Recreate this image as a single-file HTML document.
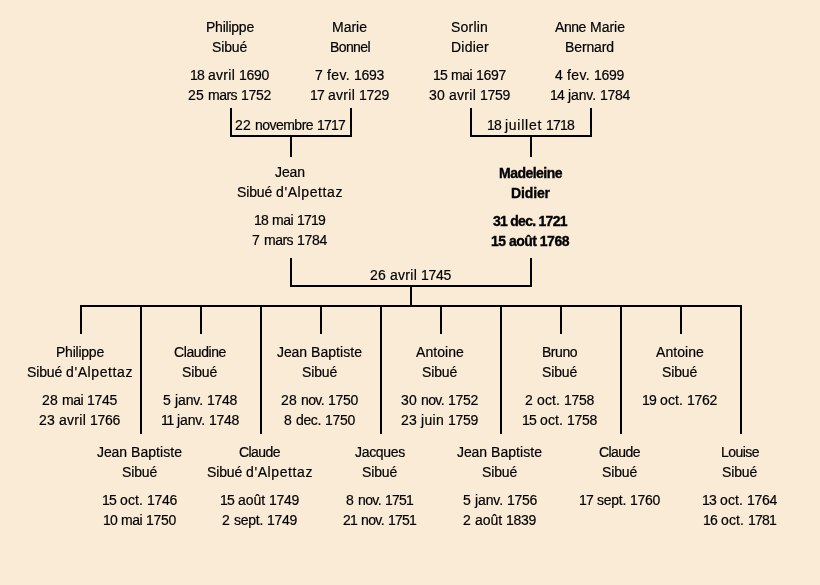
<!DOCTYPE html>
<html lang="fr"><head><meta charset="utf-8"><title>Arbre généalogique</title>
<style>
html,body{margin:0;padding:0}
body{width:820px;height:585px;background:#FAEBD7;position:relative;overflow:hidden;
font-family:"Liberation Sans","DejaVu Sans",sans-serif;font-size:14px;color:#000}
.t{position:absolute;will-change:transform;-webkit-text-stroke:0.2px #000;height:20px;line-height:20px;white-space:nowrap}
.b{font-weight:bold;-webkit-text-stroke:0.35px #000}
.l{position:absolute;background:#000}
</style></head><body>
<div class="t" style="left:205.8px;top:17px"><span style="letter-spacing:-0.23px">Philippe</span></div>
<div class="t" style="left:212.3px;top:37px"><span style="letter-spacing:-0.16px">Sibué</span></div>
<div class="t" style="left:190.3px;top:65px;word-spacing:0.11px"><span style="letter-spacing:-0.79px">18</span> <span style="letter-spacing:0.27px">avril</span> <span style="letter-spacing:-0.29px">1690</span></div>
<div class="t" style="left:188.3px;top:85px;word-spacing:0.11px"><span style="letter-spacing:0.21px">25</span> <span style="letter-spacing:-0.53px">mars</span> <span style="letter-spacing:-0.29px">1752</span></div>
<div class="t" style="left:332.4px;top:17px"><span style="letter-spacing:-0.0px">Marie</span></div>
<div class="t" style="left:329.9px;top:37px"><span style="letter-spacing:-0.6px">Bonnel</span></div>
<div class="t" style="left:315.4px;top:65px;word-spacing:0.11px"><span style="letter-spacing:0.2px">7</span> <span style="letter-spacing:0.37px">fev.</span> <span style="letter-spacing:-0.29px">1693</span></div>
<div class="t" style="left:310.4px;top:85px;word-spacing:0.11px"><span style="letter-spacing:-0.79px">17</span> <span style="letter-spacing:0.27px">avril</span> <span style="letter-spacing:-0.29px">1729</span></div>
<div class="t" style="left:451.4px;top:17px"><span style="letter-spacing:0.2px">Sorlin</span></div>
<div class="t" style="left:450.9px;top:37px"><span style="letter-spacing:0.24px">Didier</span></div>
<div class="t" style="left:433.4px;top:65px;word-spacing:0.11px"><span style="letter-spacing:-0.79px">15</span> <span style="letter-spacing:-0.52px">mai</span> <span style="letter-spacing:-0.29px">1697</span></div>
<div class="t" style="left:429.4px;top:85px;word-spacing:0.11px"><span style="letter-spacing:0.21px">30</span> <span style="letter-spacing:0.27px">avril</span> <span style="letter-spacing:-0.29px">1759</span></div>
<div class="t" style="left:554.9px;top:17px;word-spacing:0.11px"><span style="letter-spacing:-0.43px">Anne</span> <span style="letter-spacing:-0.0px">Marie</span></div>
<div class="t" style="left:565.4px;top:37px"><span style="letter-spacing:-0.12px">Bernard</span></div>
<div class="t" style="left:555.4px;top:65px;word-spacing:0.11px"><span style="letter-spacing:0.2px">4</span> <span style="letter-spacing:0.37px">fev.</span> <span style="letter-spacing:-0.29px">1699</span></div>
<div class="t" style="left:549.9px;top:85px;word-spacing:0.11px"><span style="letter-spacing:-0.79px">14</span> <span style="letter-spacing:-0.11px">janv.</span> <span style="letter-spacing:-0.29px">1784</span></div>
<div class="t" style="left:274.9px;top:162px"><span style="letter-spacing:-0.09px">Jean</span></div>
<div class="t" style="left:236.8px;top:182px;word-spacing:0.11px"><span style="letter-spacing:-0.16px">Sibué</span> <span style="letter-spacing:0.6px">d'Alpettaz</span></div>
<div class="t" style="left:254.3px;top:210px;word-spacing:0.11px"><span style="letter-spacing:-0.79px">18</span> <span style="letter-spacing:-0.52px">mai</span> <span style="letter-spacing:-0.79px">1719</span></div>
<div class="t" style="left:252.3px;top:230px;word-spacing:0.11px"><span style="letter-spacing:0.2px">7</span> <span style="letter-spacing:-0.53px">mars</span> <span style="letter-spacing:-0.29px">1784</span></div>
<div class="t b" style="left:498.9px;top:162.5px;letter-spacing:-0.53px">Madeleine</div>
<div class="t b" style="left:511.1px;top:182.5px;letter-spacing:-0.14px">Didier</div>
<div class="t b" style="left:493.4px;top:210.5px;letter-spacing:-0.73px">31 dec. 1721</div>
<div class="t b" style="left:491.4px;top:230.5px;letter-spacing:-0.51px">15 août 1768</div>
<div class="t" style="left:55.9px;top:342px"><span style="letter-spacing:-0.23px">Philippe</span></div>
<div class="t" style="left:26.9px;top:362px;word-spacing:0.11px"><span style="letter-spacing:-0.16px">Sibué</span> <span style="letter-spacing:0.6px">d'Alpettaz</span></div>
<div class="t" style="left:42.4px;top:390px;word-spacing:0.11px"><span style="letter-spacing:0.21px">28</span> <span style="letter-spacing:-0.52px">mai</span> <span style="letter-spacing:-0.29px">1745</span></div>
<div class="t" style="left:39.4px;top:410px;word-spacing:0.11px"><span style="letter-spacing:0.21px">23</span> <span style="letter-spacing:0.27px">avril</span> <span style="letter-spacing:-0.29px">1766</span></div>
<div class="t" style="left:173.8px;top:342px"><span style="letter-spacing:-0.41px">Claudine</span></div>
<div class="t" style="left:182.3px;top:362px"><span style="letter-spacing:-0.16px">Sibué</span></div>
<div class="t" style="left:162.8px;top:390px;word-spacing:0.11px"><span style="letter-spacing:0.2px">5</span> <span style="letter-spacing:-0.11px">janv.</span> <span style="letter-spacing:-0.29px">1748</span></div>
<div class="t" style="left:160.8px;top:410px;word-spacing:0.11px"><span style="letter-spacing:-1.27px">11</span> <span style="letter-spacing:-0.11px">janv.</span> <span style="letter-spacing:-0.29px">1748</span></div>
<div class="t" style="left:277.4px;top:342px;word-spacing:0.11px"><span style="letter-spacing:-0.09px">Jean</span> <span style="letter-spacing:0.05px">Baptiste</span></div>
<div class="t" style="left:302.4px;top:362px"><span style="letter-spacing:-0.16px">Sibué</span></div>
<div class="t" style="left:281.4px;top:390px;word-spacing:0.11px"><span style="letter-spacing:0.21px">28</span> <span style="letter-spacing:-0.61px">nov.</span> <span style="letter-spacing:-0.29px">1750</span></div>
<div class="t" style="left:284.4px;top:410px;word-spacing:0.11px"><span style="letter-spacing:0.2px">8</span> <span style="letter-spacing:-0.37px">dec.</span> <span style="letter-spacing:-0.29px">1750</span></div>
<div class="t" style="left:415.9px;top:342px"><span style="letter-spacing:0.07px">Antoine</span></div>
<div class="t" style="left:422.4px;top:362px"><span style="letter-spacing:-0.16px">Sibué</span></div>
<div class="t" style="left:401.4px;top:390px;word-spacing:0.11px"><span style="letter-spacing:0.21px">30</span> <span style="letter-spacing:-0.61px">nov.</span> <span style="letter-spacing:-0.29px">1752</span></div>
<div class="t" style="left:401.4px;top:410px;word-spacing:0.11px"><span style="letter-spacing:0.21px">23</span> <span style="letter-spacing:0.3px">juin</span> <span style="letter-spacing:-0.29px">1759</span></div>
<div class="t" style="left:542.4px;top:342px"><span style="letter-spacing:-0.47px">Bruno</span></div>
<div class="t" style="left:542.4px;top:362px"><span style="letter-spacing:-0.16px">Sibué</span></div>
<div class="t" style="left:525.4px;top:390px;word-spacing:0.11px"><span style="letter-spacing:0.2px">2</span> <span style="letter-spacing:0.11px">oct.</span> <span style="letter-spacing:-0.29px">1758</span></div>
<div class="t" style="left:522.4px;top:410px;word-spacing:0.11px"><span style="letter-spacing:-0.79px">15</span> <span style="letter-spacing:0.11px">oct.</span> <span style="letter-spacing:-0.29px">1758</span></div>
<div class="t" style="left:655.9px;top:342px"><span style="letter-spacing:0.07px">Antoine</span></div>
<div class="t" style="left:662.4px;top:362px"><span style="letter-spacing:-0.16px">Sibué</span></div>
<div class="t" style="left:642.4px;top:390px;word-spacing:0.11px"><span style="letter-spacing:-0.79px">19</span> <span style="letter-spacing:0.11px">oct.</span> <span style="letter-spacing:-0.29px">1762</span></div>
<div class="t" style="left:97.3px;top:442px;word-spacing:0.11px"><span style="letter-spacing:-0.09px">Jean</span> <span style="letter-spacing:0.05px">Baptiste</span></div>
<div class="t" style="left:122.3px;top:462px"><span style="letter-spacing:-0.16px">Sibué</span></div>
<div class="t" style="left:102.3px;top:490px;word-spacing:0.11px"><span style="letter-spacing:-0.79px">15</span> <span style="letter-spacing:0.11px">oct.</span> <span style="letter-spacing:-0.29px">1746</span></div>
<div class="t" style="left:103.3px;top:510px;word-spacing:0.11px"><span style="letter-spacing:-0.79px">10</span> <span style="letter-spacing:-0.52px">mai</span> <span style="letter-spacing:-0.29px">1750</span></div>
<div class="t" style="left:239.3px;top:442px"><span style="letter-spacing:-0.56px">Claude</span></div>
<div class="t" style="left:206.8px;top:462px;word-spacing:0.11px"><span style="letter-spacing:-0.16px">Sibué</span> <span style="letter-spacing:0.6px">d'Alpettaz</span></div>
<div class="t" style="left:220.3px;top:490px;word-spacing:0.11px"><span style="letter-spacing:-0.79px">15</span> <span style="letter-spacing:-0.06px">août</span> <span style="letter-spacing:-0.29px">1749</span></div>
<div class="t" style="left:222.3px;top:510px;word-spacing:0.11px"><span style="letter-spacing:0.2px">2</span> <span style="letter-spacing:-0.27px">sept.</span> <span style="letter-spacing:-0.29px">1749</span></div>
<div class="t" style="left:354.9px;top:442px"><span style="letter-spacing:-0.31px">Jacques</span></div>
<div class="t" style="left:362.4px;top:462px"><span style="letter-spacing:-0.16px">Sibué</span></div>
<div class="t" style="left:346.4px;top:490px;word-spacing:0.11px"><span style="letter-spacing:0.2px">8</span> <span style="letter-spacing:-0.61px">nov.</span> <span style="letter-spacing:-0.79px">1751</span></div>
<div class="t" style="left:343.4px;top:510px;word-spacing:0.11px"><span style="letter-spacing:-0.79px">21</span> <span style="letter-spacing:-0.61px">nov.</span> <span style="letter-spacing:-0.79px">1751</span></div>
<div class="t" style="left:457.4px;top:442px;word-spacing:0.11px"><span style="letter-spacing:-0.09px">Jean</span> <span style="letter-spacing:0.05px">Baptiste</span></div>
<div class="t" style="left:482.4px;top:462px"><span style="letter-spacing:-0.16px">Sibué</span></div>
<div class="t" style="left:462.9px;top:490px;word-spacing:0.11px"><span style="letter-spacing:0.2px">5</span> <span style="letter-spacing:-0.11px">janv.</span> <span style="letter-spacing:-0.29px">1756</span></div>
<div class="t" style="left:463.4px;top:510px;word-spacing:0.11px"><span style="letter-spacing:0.2px">2</span> <span style="letter-spacing:-0.06px">août</span> <span style="letter-spacing:-0.29px">1839</span></div>
<div class="t" style="left:599.4px;top:442px"><span style="letter-spacing:-0.56px">Claude</span></div>
<div class="t" style="left:602.4px;top:462px"><span style="letter-spacing:-0.16px">Sibué</span></div>
<div class="t" style="left:579.4px;top:490px;word-spacing:0.11px"><span style="letter-spacing:-0.79px">17</span> <span style="letter-spacing:-0.27px">sept.</span> <span style="letter-spacing:-0.29px">1760</span></div>
<div class="t" style="left:720.9px;top:442px"><span style="letter-spacing:-0.54px">Louise</span></div>
<div class="t" style="left:722.4px;top:462px"><span style="letter-spacing:-0.16px">Sibué</span></div>
<div class="t" style="left:702.4px;top:490px;word-spacing:0.11px"><span style="letter-spacing:-0.79px">13</span> <span style="letter-spacing:0.11px">oct.</span> <span style="letter-spacing:-0.29px">1764</span></div>
<div class="t" style="left:703.4px;top:510px;word-spacing:0.11px"><span style="letter-spacing:-0.79px">16</span> <span style="letter-spacing:0.11px">oct.</span> <span style="letter-spacing:-0.79px">1781</span></div>
<div class="t" style="left:235.2px;top:115px;word-spacing:0.11px"><span style="letter-spacing:0.21px">22</span> <span style="letter-spacing:-0.53px">novembre</span> <span style="letter-spacing:-0.79px">1717</span></div>
<div class="t" style="left:486.6px;top:115px;word-spacing:0.11px"><span style="letter-spacing:-0.79px">18</span> <span style="letter-spacing:0.73px">juillet</span> <span style="letter-spacing:-0.79px">1718</span></div>
<div class="t" style="left:369.9px;top:265px;word-spacing:0.11px"><span style="letter-spacing:0.21px">26</span> <span style="letter-spacing:0.27px">avril</span> <span style="letter-spacing:-0.29px">1745</span></div>
<div class="l" style="left:230px;top:108px;width:2px;height:29px"></div>
<div class="l" style="left:350px;top:108px;width:2px;height:29px"></div>
<div class="l" style="left:230px;top:135px;width:122px;height:2px"></div>
<div class="l" style="left:290px;top:137px;width:2px;height:20px"></div>
<div class="l" style="left:470px;top:108px;width:2px;height:29px"></div>
<div class="l" style="left:590px;top:108px;width:2px;height:29px"></div>
<div class="l" style="left:470px;top:135px;width:122px;height:2px"></div>
<div class="l" style="left:530px;top:137px;width:2px;height:20px"></div>
<div class="l" style="left:290px;top:258px;width:2px;height:29px"></div>
<div class="l" style="left:530px;top:258px;width:2px;height:29px"></div>
<div class="l" style="left:290px;top:285px;width:242px;height:2px"></div>
<div class="l" style="left:410px;top:287px;width:2px;height:18px"></div>
<div class="l" style="left:80px;top:305px;width:662px;height:2px"></div>
<div class="l" style="left:80px;top:305px;width:2px;height:29px"></div>
<div class="l" style="left:140px;top:305px;width:2px;height:129px"></div>
<div class="l" style="left:200px;top:305px;width:2px;height:29px"></div>
<div class="l" style="left:260px;top:305px;width:2px;height:129px"></div>
<div class="l" style="left:320px;top:305px;width:2px;height:29px"></div>
<div class="l" style="left:380px;top:305px;width:2px;height:129px"></div>
<div class="l" style="left:440px;top:305px;width:2px;height:29px"></div>
<div class="l" style="left:500px;top:305px;width:2px;height:129px"></div>
<div class="l" style="left:560px;top:305px;width:2px;height:29px"></div>
<div class="l" style="left:620px;top:305px;width:2px;height:129px"></div>
<div class="l" style="left:680px;top:305px;width:2px;height:29px"></div>
<div class="l" style="left:740px;top:305px;width:2px;height:129px"></div>
</body></html>
